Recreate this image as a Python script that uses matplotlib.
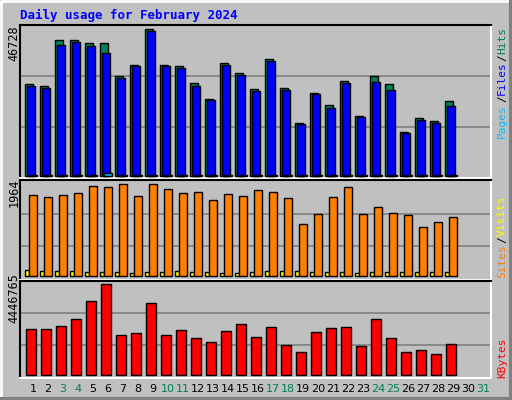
import matplotlib
matplotlib.use("Agg")
import matplotlib.pyplot as plt
from matplotlib.lines import Line2D

days = list(range(1, 30))
hits = [29165, 28526, 43215, 43215, 42257, 42257, 31719, 35338, 46728, 35338, 34912, 29590, 24375, 35977, 32784,
        27674, 37254, 27994, 16711, 26397, 22565, 30229, 18946, 31719, 29165, 13837, 18308, 17456, 23843]
files = [28526, 27887, 41618, 42576, 41299, 39064, 31081, 34912, 46089, 34912, 34274, 28526, 24056, 35232, 32039,
         27036, 36509, 27249, 16392, 25971, 21501, 29484, 18627, 29803, 27249, 13518, 17669, 16711, 22140]
pages = [150, 150, 150, 150, 150, 745, 150, 150, 150, 150, 150, 150, 150, 150, 150,
         150, 150, 150, 150, 150, 150, 150, 150, 150, 150, 150, 150, 150, 150]
sites = [1730, 1687, 1730, 1773, 1921, 1900, 1964, 1709, 1964, 1858, 1773, 1794, 1624, 1751, 1709,
         1836, 1794, 1666, 1106, 1326, 1687, 1900, 1326, 1475, 1347, 1305, 1049, 1156, 1262]
visits = [135, 113, 113, 113, 92, 92, 92, 71, 92, 92, 113, 92, 92, 71, 71,
          92, 113, 113, 113, 92, 92, 92, 71, 92, 92, 92, 92, 92, 92]
kbytes = [2255800, 2255800, 2401900, 2742700, 3619100, 4446765, 1963700, 2061100, 3521700, 1963700, 2207100,
          1817600, 1622900, 2158500, 2499300, 1866300, 2353200, 1476800, 1136000, 2109800, 2304500, 2353200,
          1428200, 2742700, 1817600, 1136000, 1233400, 1038700, 1525500]
tick_days = list(range(1, 32))
weekend = [3, 4, 10, 11, 17, 18, 24, 25, 31]
title = "Daily usage for February 2024"

W, H = 512, 400
BG = "#c0c0c0"
fig = plt.figure(figsize=(W / 100, H / 100), dpi=100, facecolor=BG)
MONO = "DejaVu Sans Mono"

def panel(top, bot, base, maxpx, M):
    ax = fig.add_axes([20 / W, 1 - bot / H, (490.7 - 20) / W, (bot - top) / H])
    ax.set_facecolor(BG)
    scale = M / (base - maxpx)
    ax.set_ylim(-(bot - base) * scale, (base - top) * scale)
    ax.set_xlim(1 + (20 - 33) / 15, 1 + (490.7 - 33) / 15)
    for f in (0.33, 0.68):
        ax.axhline(M * f, color="#808080", lw=1.2, zorder=0)
    ax.set_xticks([]); ax.set_yticks([])
    ax.spines["left"].set_color("black"); ax.spines["top"].set_color("black")
    ax.spines["right"].set_color("white"); ax.spines["bottom"].set_color("white")
    for s in ax.spines.values():
        s.set_linewidth(1.5)
    return ax

kw = dict(align="edge", edgecolor="black", linewidth=1, zorder=3)
ax1 = panel(25, 177.5, 175.7, 29.3, max(hits))
ax1.bar([d - 0.51 for d in days], hits, 0.5, color="#00805c", **kw)
ax1.bar([d - 0.38 for d in days], files, 0.5, color="#0000ff", **kw)
ax1.bar([d - 0.25 for d in days], pages, 0.5, color="#00c0ff", **kw)

ax2 = panel(179.5, 279.5, 276.3, 184, max(sites))
ax2.bar([d - 0.51 for d in days], visits, 0.27, color="#ffff00", **kw)
ax2.bar([d - 0.25 for d in days], sites, 0.49, color="#ff8000", **kw)

ax3 = panel(280.5, 378.3, 375.3, 284, max(kbytes))
ax3.bar([d - 0.45 for d in days], kbytes, 0.67, color="#ff0000", **kw)

fig.text(20 / W, 1 - 15 / H, title, color="#0000ff", fontsize=9, fontweight="bold",
         family=MONO, va="center", ha="left")

for lab, y in ((str(max(hits)), 43), (str(max(sites)), 193), (str(max(kbytes)), 298)):
    fig.text(14 / W, 1 - y / H, lab, rotation=90, fontsize=8.5, family=MONO,
             va="center", ha="center", color="black")

def rtext(t, y, c):
    fig.text(502 / W, 1 - y / H, t, rotation=90, fontsize=8, family=MONO,
             color=c, va="center", ha="center")

rtext("Hits", 41, "#00805c"); rtext("/", 58, "black"); rtext("Files", 78, "#0000ff")
rtext("/", 99, "black"); rtext("Pages", 121, "#00c0ff")
rtext("Visits", 216, "#ffff00"); rtext("/", 240, "black"); rtext("Sites", 261, "#ff8000")
rtext("KBytes", 358, "#ff0000")

for d in tick_days:
    fig.text((33 + 15 * (d - 1)) / W, 1 - 389 / H, str(d), fontsize=8,
             color="#00805c" if d in weekend else "black", ha="center", va="center")

# bevel border
fig.add_artist(Line2D([1 / W, 1 / W, 1 - 1 / W], [0, 1 - 1 / H, 1 - 1 / H], color="white", lw=2))
fig.add_artist(Line2D([1 / W, 1 - 1 / W, 1 - 1 / W], [1 / H, 1 / H, 1 - 1 / H], color="#808080", lw=3))

fig.savefig("out.png", dpi=100, facecolor=BG)
